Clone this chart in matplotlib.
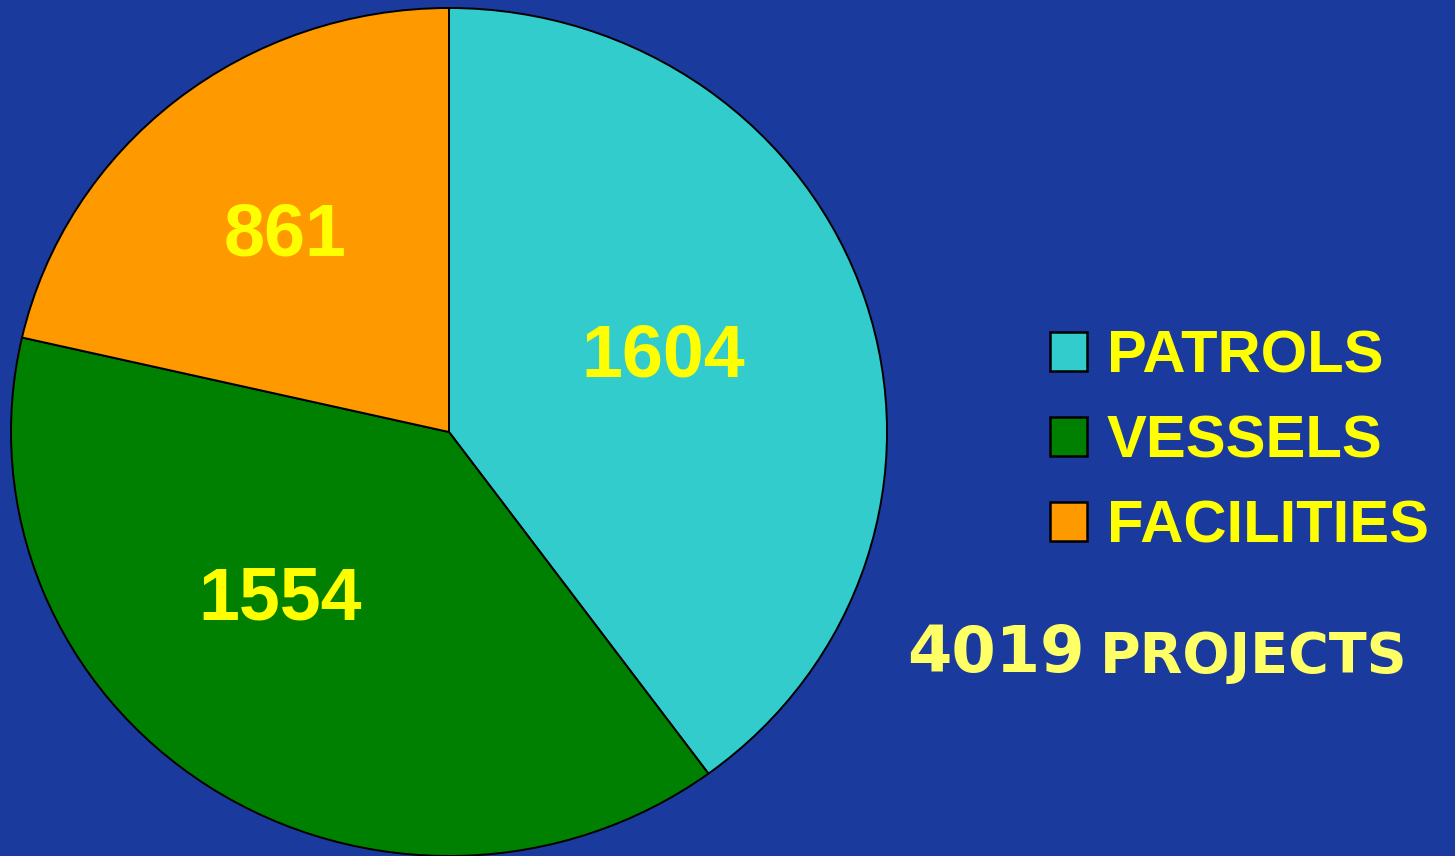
import matplotlib.pyplot as plt
from matplotlib.patches import Patch

# Data
categories = ["PATROLS", "VESSELS", "FACILITIES"]
values = [1604, 1554, 861]
colors = ["#33CCCC", "#008000", "#FF9900"]
total = sum(values)

bg = "#1A3A9E"
yellow = "#FFFF00"
light_yellow = "#FFFF66"

plt.rcParams["font.family"] = ["Liberation Sans", "DejaVu Sans"]

fig = plt.figure(figsize=(14.55, 8.56), dpi=100, facecolor=bg)

# pie axes: slightly wider than tall, bottom runs to the edge
ax = fig.add_axes([11 / 1455, 0.0, 876 / 1455, 848 / 856])
ax.set_facecolor(bg)
wedges, _ = ax.pie(values, colors=colors, startangle=90, counterclock=False,
                   wedgeprops=dict(edgecolor="black", linewidth=1.4))
ax.set_aspect("auto")
ax.set_xlim(-1, 1)
ax.set_ylim(-1, 1)

# value labels inside slices
label_pos = [(0.49, 0.178), (-0.385, -0.397), (-0.375, 0.463)]
for (x, y), v in zip(label_pos, values):
    ax.text(x, y, str(v), ha="center", va="center", color=yellow,
            fontsize=53, fontweight="bold")

# legend
handles = [Patch(facecolor=c, edgecolor="black", linewidth=1.8) for c in colors]
leg = fig.legend(handles, categories, loc="center left",
                 bbox_to_anchor=(1050 / 1455, 1 - 442 / 856),
                 frameon=False, labelcolor=yellow,
                 prop=dict(weight="bold", size=43),
                 handlelength=0.62, handleheight=0.62, handletextpad=0.33,
                 labelspacing=0.5, borderpad=0, borderaxespad=0)

# total
fig.text(907 / 1455, 1 - 672 / 856, str(total), color=light_yellow,
         fontsize=46, fontweight="bold", family="DejaVu Sans",
         ha="left", va="baseline")
fig.text(1100 / 1455, 1 - 672 / 856, "PROJECTS", color=light_yellow,
         fontsize=40, fontweight="bold", family="DejaVu Sans",
         ha="left", va="baseline")

fig.savefig("out.png", dpi=100, facecolor=bg)
